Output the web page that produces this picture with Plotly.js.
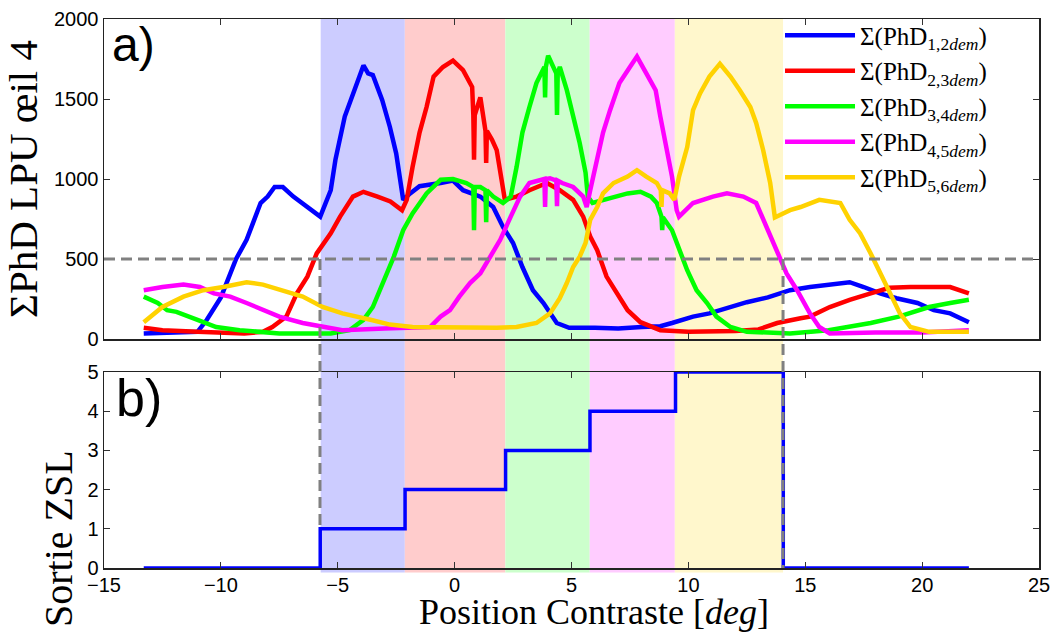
<!DOCTYPE html>
<html>
<head>
<meta charset="utf-8">
<script src="https://cdn.plot.ly/plotly-3.0.1.min.js"></script>
<style>html,body{margin:0;padding:0;background:#fff;}#chart{width:1053px;height:633px;}</style>
</head>
<body>
<div id="chart"></div>
<script>
// ---- Data ----
const seriesNames = [
  'Σ(PhD<sub>1,2</sub><sub><i>dem</i></sub>)',
  'Σ(PhD<sub>2,3</sub><sub><i>dem</i></sub>)',
  'Σ(PhD<sub>3,4</sub><sub><i>dem</i></sub>)',
  'Σ(PhD<sub>4,5</sub><sub><i>dem</i></sub>)',
  'Σ(PhD<sub>5,6</sub><sub><i>dem</i></sub>)'
];
const seriesColors = ['#0000ff', '#ff0000', '#00ff00', '#ff00ff', '#ffd200'];

const x12 = [-13.3,-12,-11,-10.6,-10.0,-9.35,-8.9,-8.3,-8.0,-7.7,-7.35,-6.9,-6.3,-5.75,-5.3,-5.1,-4.7,-4.26,-3.9,-3.7,-3.5,-3.1,-2.77,-2.5,-2.2,-1.9,-1.5,-0.6,-0.07,0.36,1.1,1.65,2.07,2.5,2.9,3.35,3.8,4.37,4.9,6,7,8,8.8,9.3,10.2,10.9,11.65,12.5,13.4,14.35,15.2,16.05,16.9,17.5,18.2,18.9,19.8,20.5,21.2,22];
const y12 = [35,40,45,120,260,500,620,850,890,950,950,890,825,765,930,1120,1390,1575,1710,1660,1650,1494,1325,1160,870,910,955,975,990,930,890,825,700,600,450,305,225,100,70,70,65,75,80,100,140,160,195,230,260,305,325,337,355,325,285,255,225,180,160,105];

const x23 = [-13.3,-12.5,-11,-10,-9,-8.2,-7.8,-7.2,-6.75,-6.3,-5.9,-5.3,-4.9,-4.35,-3.9,-3.3,-2.75,-2.25,-2.05,-1.8,-1.5,-1.2,-0.9,-0.5,-0.07,0.36,0.75,0.8,0.83,0.86,1.1,1.32,1.35,1.38,1.6,1.8,2.0,2.15,2.65,3.2,3.95,4.5,5.07,5.5,5.8,6.1,6.5,6.95,7.4,7.95,8.8,10,11,12,13,13.8,14.8,15.2,16.05,16.9,17.8,18.6,19.5,20.3,21.2,22];
const y23 = [70,55,45,40,35,45,75,140,285,390,535,660,765,890,920,890,860,805,870,1075,1290,1450,1640,1700,1740,1680,1575,1400,1120,1400,1510,1300,1100,1300,1245,1180,995,870,890,930,975,930,870,765,640,555,390,290,180,105,55,45,45,50,60,100,130,140,200,245,285,320,325,325,325,285];

const x34 = [-13.3,-12.7,-12.3,-11.9,-11,-10.2,-9.2,-7.5,-6,-5.3,-4.5,-3.9,-3.5,-3.05,-2.6,-2.2,-1.8,-1.2,-0.6,-0.07,0.5,0.8,0.83,0.86,1.1,1.32,1.35,1.38,1.65,2.07,2.4,2.65,2.9,3.2,3.5,3.84,3.87,3.9,4.0,4.35,4.38,4.41,4.5,4.8,5.07,5.35,5.6,5.7,5.9,6.35,6.8,7.4,7.95,8.4,8.65,8.85,8.88,8.91,9.3,9.6,9.95,10.35,10.8,11.2,11.8,12.5,14.35,16,17.8,19,20.3,21.2,22];
const y34 = [265,225,180,170,120,75,55,35,35,35,55,120,200,350,515,680,785,910,995,1000,975,950,680,950,950,930,730,930,890,850,890,1075,1290,1450,1600,1700,1510,1700,1770,1660,1400,1660,1700,1555,1390,1225,1040,890,850,870,890,910,920,890,850,765,680,760,680,555,430,305,225,140,75,45,35,55,100,140,200,225,245];

const x45 = [-13.3,-12.5,-11.6,-10.9,-10.3,-9.6,-8.9,-8.2,-7.5,-6.5,-5.35,-4.8,-3,-1.05,-0.6,-0.2,0.2,0.66,1.1,1.5,1.95,2.4,2.8,3.2,3.65,3.84,3.87,3.9,4.08,4.35,4.38,4.41,4.6,5.07,5.5,5.65,5.8,6.1,6.35,6.65,7.05,7.5,7.8,8.2,8.6,8.8,9.1,9.3,9.5,9.6,10.2,11.05,11.65,12.35,12.9,13.35,13.8,14.2,14.65,15.2,15.6,16.05,18,20,22];
const y45 = [305,325,340,325,285,265,225,180,140,100,70,55,65,75,140,180,265,350,410,515,620,765,890,975,995,1000,825,1000,1005,990,830,990,975,950,890,825,930,1140,1290,1430,1600,1700,1765,1660,1555,1390,1180,1015,805,765,850,890,910,890,850,700,555,410,305,160,75,35,40,40,55];

const x56 = [-13.3,-12.5,-11.6,-10.75,-9.9,-8.9,-8.2,-7.35,-6.5,-5.65,-4.8,-3.6,-2.77,-1.8,0,1.8,2.65,3.5,4.08,4.5,4.8,5.07,5.35,5.6,5.8,6.1,6.35,6.8,7.4,7.8,8.2,8.65,8.82,8.85,8.88,9.2,9.4,9.6,9.95,10.2,10.5,10.9,11.35,11.8,12.2,12.65,12.9,13.2,13.5,13.7,14.35,14.8,15.6,16.5,16.9,17.35,17.8,18.2,18.6,19.05,19.5,20.3,22];
const y56 = [105,200,265,305,325,355,340,305,265,200,160,120,90,75,70,70,75,100,160,255,350,450,515,600,745,825,910,975,1015,1055,1015,975,930,825,930,910,870,1015,1200,1430,1535,1640,1720,1640,1555,1450,1350,1180,975,760,805,825,870,850,745,660,535,410,285,160,75,45,45];

// ZSL output (step function): value holds from each x until the next
const zslX = [-13.3, -5.75, -2.12, 2.18, 5.79, 9.45, 14.06, 22];
const zslY = [0, 1, 2, 3, 4, 5, 0, 0];

// Shaded zones
const zoneEdges = [-5.73, -2.13, 2.17, 5.78, 9.42, 14.05];
const zoneColors = ['#ccccff', '#ffcccc', '#ccffcc', '#ffccff', '#fff7cc'];
const threshold = 500;

// Text
const yTitleTop = 'ΣPhD LPU œil 4';
const yTitleBottom = 'Sortie ZSL';
const xTitle = 'Position Contraste [<i>deg</i>]';

// ---- Build figure ----
const xs = [x12, x23, x34, x45, x56];
const ys = [y12, y23, y34, y45, y56];
const traces = xs.map((xv, i) => ({
  x: xv, y: ys[i], type: 'scatter', mode: 'lines', name: seriesNames[i],
  line: {color: seriesColors[i], width: 4.5}, xaxis: 'x', yaxis: 'y'
}));
traces.push({
  x: zslX, y: zslY, type: 'scatter', mode: 'lines', line: {shape: 'hv', color: '#0000ff', width: 3.5},
  xaxis: 'x2', yaxis: 'y2', showlegend: false
});

const topDom = [0.4171, 1];
const botDom = [0, 0.357];
const shapes = [];
for (let i = 0; i < zoneColors.length; i++) {
  shapes.push({type: 'rect', xref: 'x', yref: 'paper', x0: zoneEdges[i], x1: zoneEdges[i + 1],
    y0: -0.008, y1: 1, fillcolor: zoneColors[i], line: {width: 0}, layer: 'below'});
}
const yThrPaper = topDom[0] + (topDom[1] - topDom[0]) * threshold / 2000;
const dash = {color: '#808080', width: 3, dash: '11px,6px'};
shapes.push({type: 'line', xref: 'paper', yref: 'y', x0: 0, x1: 1, y0: threshold, y1: threshold, line: dash, layer: 'above'});
shapes.push({type: 'line', xref: 'x', yref: 'paper', x0: zoneEdges[0] - 0.03, x1: zoneEdges[0] - 0.03,
  y0: yThrPaper, y1: botDom[1] * zslY[1] / 5, line: dash, layer: 'above'});
shapes.push({type: 'line', xref: 'x', yref: 'paper', x0: zoneEdges[5], x1: zoneEdges[5],
  y0: yThrPaper, y1: 0, line: dash, layer: 'above'});

const tickFont = {family: 'Liberation Sans, Arial, sans-serif', size: 20, color: '#000'};
const serif = 'Liberation Serif, DejaVu Serif, serif';
const sans = 'Liberation Sans, Arial, sans-serif';
const axisCommon = {showgrid: false, zeroline: false, showline: true, linecolor: '#222', linewidth: 1.5,
  mirror: 'ticks', ticks: 'inside', ticklen: 6, tickcolor: '#333', tickfont: tickFont};

const layout = {
  width: 1053, height: 633,
  margin: {l: 104, r: 14, t: 19, b: 65},
  paper_bgcolor: '#fff', plot_bgcolor: 'rgba(0,0,0,0)',
  showlegend: true,
  legend: {x: 0.723, y: 1.012, xanchor: 'left', yanchor: 'top', bgcolor: 'rgba(255,255,255,0)',
    font: {family: serif, size: 25, color: '#000'}, itemwidth: 70, tracegroupgap: 0},
  xaxis: Object.assign({}, axisCommon, {domain: [0, 1], range: [-15, 25], anchor: 'y', showticklabels: false,
    tickvals: [-15, -10, -5, 0, 5, 10, 15, 20, 25]}),
  yaxis: Object.assign({}, axisCommon, {domain: topDom, range: [0, 2000], anchor: 'x',
    tickvals: [0, 500, 1000, 1500, 2000],
    title: {text: yTitleTop, font: {family: serif, size: 41, color: '#000'}, standoff: 6}}),
  xaxis2: Object.assign({}, axisCommon, {domain: [0, 1], range: [-15, 25], anchor: 'y2', matches: 'x',
    tickvals: [-15, -10, -5, 0, 5, 10, 15, 20, 25], ticklabelstandoff: -2}),
  yaxis2: Object.assign({}, axisCommon, {domain: botDom, range: [0, 5], anchor: 'x2',
    tickvals: [0, 1, 2, 3, 4, 5]}),
  shapes: shapes,
  annotations: [
    {text: xTitle, xref: 'paper', yref: 'paper', x: 0.524, y: -0.1184, xanchor: 'center', yanchor: 'bottom',
      showarrow: false, borderpad: 0, font: {family: serif, size: 36, color: '#000'}},
    {text: yTitleBottom, xref: 'paper', yref: 'paper', x: -0.0492, y: 0.0546, xanchor: 'center', yanchor: 'middle',
      textangle: -90, showarrow: false, font: {family: serif, size: 40, color: '#000'}},
    {text: 'a)', xref: 'paper', yref: 'paper', x: 0.006, y: 1.006, xanchor: 'left', yanchor: 'top', showarrow: false,
      font: {family: sans, size: 48, color: '#000'}},
    {text: 'b)', xref: 'paper', yref: 'paper', x: 0.011, y: 0.366, xanchor: 'left', yanchor: 'top', showarrow: false,
      font: {family: sans, size: 52, color: '#000'}}
  ]
};

Plotly.newPlot('chart', traces, layout, {displayModeBar: false, staticPlot: true});
</script>
</body>
</html>
